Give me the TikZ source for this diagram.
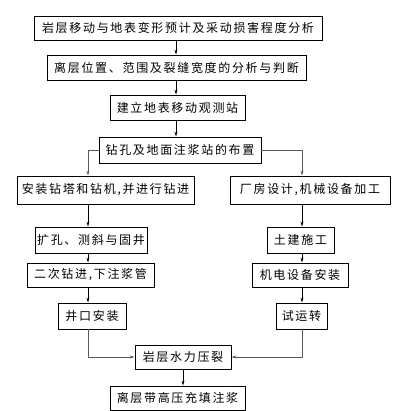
\documentclass[tikz,border=0pt]{standalone}
\usepackage{fontspec}
\newfontfamily\cjk[LetterSpace=14]{Noto Sans CJK SC}
\usetikzlibrary{arrows.meta}
\begin{document}
\begin{tikzpicture}[x=1pt,y=-1pt,
  box/.style={draw=black,line width=0.9pt,inner sep=0pt,anchor=center,
    font=\cjk\fontsize{12}{14}\selectfont,text=black},
  arr/.style={-{Stealth[length=5pt,width=3pt]},line width=0.6pt,draw=black},
  branch/.style={line width=0.6pt,draw=black!65}]
\useasboundingbox (0,0) rectangle (407,411);
\coordinate (cx) at (176,0);
\coordinate (lx) at (88,0);
\coordinate (rx) at (302,0);
\node[box,minimum width=288pt,minimum height=24pt] (b1) at (178,28) {岩层移动与地表变形预计及采动损害程度分析};
\node[box,minimum width=259pt,minimum height=25pt] (b2) at (176.5,67.5) {离层位置、范围及裂缝宽度的分析与判断};
\node[box,minimum width=135pt,minimum height=25pt] (b3) at (177.5,107.5) {建立地表移动观测站};
\node[box,minimum width=162pt,minimum height=26pt] (b4) at (180,150) {钻孔及地面注浆站的布置};
\node[box,minimum width=177pt,minimum height=28pt] (b5) at (105.5,190) {安装钻塔和钻机,并进行钻进};
\node[box,minimum width=160pt,minimum height=28pt] (b6) at (310,190) {厂房设计,机械设备加工};
\node[box,minimum width=112pt,minimum height=26pt] (b7) at (91,240) {扩孔、测斜与固井};
\node[box,minimum width=67pt,minimum height=26pt] (b8) at (300.5,240) {土建施工};
\node[box,minimum width=127pt,minimum height=24pt] (b9) at (90.5,275) {二次钻进,下注浆管};
\node[box,minimum width=96pt,minimum height=24pt] (b10) at (300,275) {机电设备安装};
\node[box,minimum width=68pt,minimum height=26pt] (b11) at (92,316) {井口安装};
\node[box,minimum width=51pt,minimum height=26pt] (b12) at (301.5,316) {试运转};
\node[box,minimum width=96pt,minimum height=24pt] (b13) at (183,357) {岩层水力压裂};
\node[box,minimum width=135pt,minimum height=24pt] (b14) at (177.5,398) {离层带高压充填注浆};
% main column
\draw[arr] (b1.south -| cx) -- (b2.north -| cx);
\draw[arr] (b2.south -| cx) -- (b3.north -| cx);
\draw[arr] (b3.south -| cx) -- (b4.north -| cx);
% branches
\draw[branch,-{Stealth[length=5pt,width=3pt]}] (b4.west) -- (b4.west -| lx) -- (b5.north -| lx);
\draw[branch,-{Stealth[length=5pt,width=3pt]}] (b4.east) -- (b4.east -| rx) -- (b6.north -| rx);
% left column
\draw[arr] (b5.south -| lx) -- (b7.north -| lx);
\draw[arr] (b7.south -| lx) -- (b9.north -| lx);
\draw[arr] (b9.south -| lx) -- (b11.north -| lx);
% right column
\draw[arr] (b6.south -| rx) -- (b8.north -| rx);
\draw[arr] (b8.south -| rx) -- (b10.north -| rx);
\draw[arr] (b10.south -| rx) -- (b12.north -| rx);
% merge
\draw[branch,-{Stealth[length=5pt,width=3pt]}] (b11.south -| lx) -- (b13.west -| lx) -- (b13.west);
\draw[branch,-{Stealth[length=5pt,width=3pt]}] (b12.south -| rx) -- (b13.east -| rx) -- (b13.east);
\draw[arr] (b13.south) -- (b14.north -| b13.south);
\end{tikzpicture}
\end{document}
